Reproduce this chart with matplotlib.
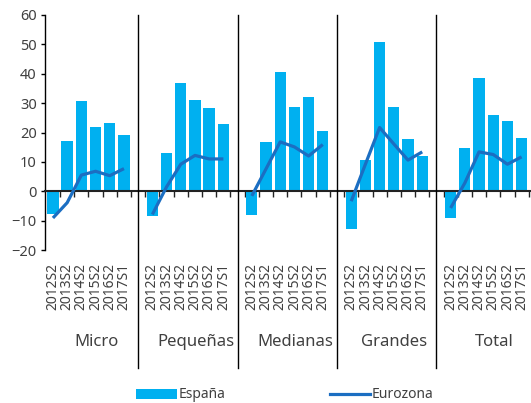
import matplotlib.pyplot as plt
import matplotlib.transforms as mtransforms
from matplotlib.patches import Patch
from matplotlib.lines import Line2D
import numpy as np

plt.rcParams['font.family'] = ['Noto Sans', 'DejaVu Sans']

groups = ["Micro", "Pequeñas", "Medianas", "Grandes", "Total"]
periods = ["2012S2", "2013S2", "2014S2", "2015S2", "2016S2", "2017S1"]

espana = [
    [-7.6, 17.2, 30.7, 21.9, 23.4, 19.1],
    [-8.5, 13.0, 36.8, 31.0, 28.2, 22.8],
    [-8.0, 16.7, 40.6, 28.6, 32.0, 20.5],
    [-12.8, 10.6, 50.7, 28.6, 17.7, 12.0],
    [-9.0, 14.8, 38.6, 26.1, 23.8, 18.1],
]
eurozona = [
    [-9.1, -3.9, 5.5, 6.8, 5.3, 7.7],
    [-7.9, 1.5, 9.2, 12.2, 11.0, 11.0],
    [-1.6, 7.6, 16.8, 15.1, 12.0, 15.9],
    [-3.4, 9.2, 21.7, 16.1, 10.6, 13.4],
    [-5.7, 2.8, 13.4, 12.5, 9.2, 11.7],
]

bar_color = "#00B0F0"
line_color = "#1B6EC2"
text_color = "#404040"

fig = plt.figure(figsize=(5.31, 4.03), dpi=100)
ax = fig.add_axes([45 / 531, 1 - 250 / 403, 1 - 45 / 531, 235 / 403])

slot = len(periods) + 1
n = len(periods)
for g, name in enumerate(groups):
    x = np.arange(n) + g * slot
    ax.bar(x, espana[g], width=0.8, color=bar_color, edgecolor="none", zorder=2)
    ax.plot(x, eurozona[g], color=line_color, lw=2.3, solid_capstyle="butt", zorder=3)

ax.set_xlim(-0.56, 33.66)
ax.set_ylim(-20, 60)
ax.set_yticks(np.arange(-20, 61, 10))
ax.tick_params(axis="y", length=3, width=1, colors="black", labelcolor=text_color,
               labelsize=10.5, pad=3)

# category axis crosses at zero
ax.spines["bottom"].set_position(("data", 0))
ax.spines["bottom"].set_linewidth(1.5)
ax.spines["bottom"].set_color("#222222")
ax.spines["left"].set_color("black")
ax.spines["left"].set_linewidth(1)
ax.spines["top"].set_visible(False)
ax.spines["right"].set_visible(False)
bounds = np.arange(0.5, len(groups) * slot - 1, 1.0)
ax.set_xticks(bounds)
ax.tick_params(axis="x", length=4, width=1, direction="out", colors="#222222",
               labelbottom=False)

trans = mtransforms.blended_transform_factory(ax.transData, ax.transAxes)

# period labels and group labels
for g, name in enumerate(groups):
    x = np.arange(n) + g * slot
    for xi, p in zip(x, periods):
        ax.annotate(p, xy=(xi, 0), xycoords=trans, xytext=(0, -13),
                    textcoords="offset pixels", rotation=90, ha="center", va="top",
                    fontsize=10, color=text_color, annotation_clip=False)
    ax.text(x.mean() + 0.55, -0.391, name, transform=trans, ha="center", va="center",
            fontsize=12, color=text_color, clip_on=False)

# group separators
for g in range(len(groups) - 1):
    xs = g * slot + n
    ax.plot([xs, xs], [1.0, -0.502], transform=trans, color="black", lw=1,
            clip_on=False, zorder=4)

handles = [Patch(facecolor=bar_color, edgecolor="none", label="España"),
           Line2D([0], [0], color=line_color, lw=2.3, label="Eurozona")]
fig.legend(handles=handles, loc="center", bbox_to_anchor=(285 / 531, 1 - 395 / 403),
           ncol=2, frameon=False, fontsize=10, handlelength=2.9, handleheight=0.7,
           handletextpad=0.15, columnspacing=7.5, labelcolor=text_color)

fig.savefig("out.png", dpi=100)
